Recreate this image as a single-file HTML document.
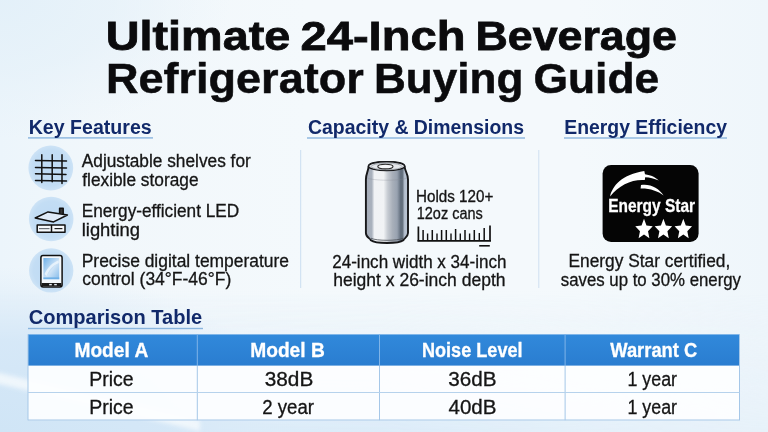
<!DOCTYPE html>
<html><head><meta charset="utf-8"><title>Ultimate 24-Inch Beverage Refrigerator Buying Guide</title>
<style>
html,body{margin:0;padding:0;background:#eef5fb;}
body{width:768px;height:432px;overflow:hidden;}
svg{display:block;font-family:'Liberation Sans', sans-serif;}
</style></head><body>
<svg width="768" height="432" viewBox="0 0 768 432">
<defs>
<linearGradient id="bg" x1="0" y1="0" x2="1" y2="0"><stop offset="0" stop-color="#ecf5fb"/><stop offset="0.12" stop-color="#f1f7fb"/><stop offset="0.4" stop-color="#f4f9fc"/><stop offset="0.75" stop-color="#f4f9fc"/><stop offset="1" stop-color="#eff6fb"/></linearGradient>
<radialGradient id="bl2" cx="0.5" cy="0.5" r="0.5"><stop offset="0" stop-color="#d0e5f6" stop-opacity="1"/><stop offset="0.55" stop-color="#d4e7f7" stop-opacity="0.9"/><stop offset="1" stop-color="#dcebf8" stop-opacity="0"/></radialGradient>
<radialGradient id="tl" cx="0.5" cy="0.5" r="0.5"><stop offset="0" stop-color="#e3f0f9" stop-opacity="0.95"/><stop offset="0.5" stop-color="#e5f1f9" stop-opacity="0.7"/><stop offset="1" stop-color="#e8f2fa" stop-opacity="0"/></radialGradient>
<linearGradient id="bb" x1="0" y1="0" x2="0" y2="1"><stop offset="0" stop-color="#dcebf8" stop-opacity="0"/><stop offset="0.75" stop-color="#dcebf8" stop-opacity="0.75"/><stop offset="1" stop-color="#d9eaf8" stop-opacity="1"/></linearGradient>
<linearGradient id="bbm" x1="0" y1="0" x2="1" y2="0"><stop offset="0" stop-color="#fff" stop-opacity="1"/><stop offset="0.5" stop-color="#fff" stop-opacity="0.9"/><stop offset="1" stop-color="#fff" stop-opacity="0.35"/></linearGradient>
<mask id="mk"><rect x="0" y="290" width="768" height="142" fill="url(#bbm)"/></mask>
<radialGradient id="cg" cx="0.5" cy="0.5" r="0.5"><stop offset="0" stop-color="#bedaf4"/><stop offset="0.8" stop-color="#c3ddf4"/><stop offset="1" stop-color="#cde3f6"/></radialGradient>
<linearGradient id="thg" x1="0" y1="0" x2="0" y2="1"><stop offset="0" stop-color="#3189db"/><stop offset="1" stop-color="#2a7dd0"/></linearGradient>
<linearGradient id="can" gradientUnits="userSpaceOnUse" x1="365.9" y1="0" x2="408" y2="0"><stop offset="0" stop-color="#8f98a6"/><stop offset="0.02" stop-color="#a5adb9"/><stop offset="0.14" stop-color="#a9b1bd"/><stop offset="0.2" stop-color="#f0f2f5"/><stop offset="0.42" stop-color="#f1f3f5"/><stop offset="0.52" stop-color="#c6cbd2"/><stop offset="0.63" stop-color="#a9b0ba"/><stop offset="0.74" stop-color="#98a2b0"/><stop offset="0.83" stop-color="#5f6b7a"/><stop offset="0.87" stop-color="#66727f"/><stop offset="0.92" stop-color="#b5c0cf"/><stop offset="0.98" stop-color="#b9c4d2"/><stop offset="1" stop-color="#8f98a6"/></linearGradient>
<linearGradient id="scr" x1="0" y1="0" x2="1" y2="1"><stop offset="0" stop-color="#6fb0e8"/><stop offset="0.55" stop-color="#cfe4f7"/><stop offset="1" stop-color="#86bcea"/></linearGradient>
<filter id="bl3" x="-10%" y="-50%" width="120%" height="200%"><feGaussianBlur stdDeviation="2.2"/></filter>
</defs>
<rect id="bgr" width="768" height="432" fill="url(#bg)"/>
<g id="bgl"><ellipse cx="0" cy="0" rx="230" ry="140" fill="url(#tl)"/><rect x="0" y="290" width="768" height="142" fill="url(#bb)" mask="url(#mk)"/><ellipse cx="0" cy="432" rx="300" ry="165" fill="url(#bl2)"/><polygon points="-5,372 -5,383 200,431 200,420" fill="#f6fafd" opacity="0.8" filter="url(#bl3)"/></g>
<g id="gfx">
<!-- heading underlines -->
<rect x="28" y="137.2" width="125" height="1.4" fill="#8ab5de"/>
<rect x="307" y="137.3" width="218" height="1.4" fill="#8ab5de"/>
<rect x="564" y="137.3" width="163" height="1.4" fill="#8ab5de"/>
<rect x="28" y="327.8" width="175" height="1.4" fill="#8ab5de"/>
<!-- dividers -->
<rect x="300.2" y="150" width="1" height="138" fill="#cadef0"/>
<rect x="538.3" y="150" width="1" height="138" fill="#cfe0f1"/>
<!-- circles -->
<circle cx="50.8" cy="168" r="22.4" fill="url(#cg)"/>
<circle cx="51.2" cy="219" r="22.3" fill="url(#cg)"/>
<circle cx="51.2" cy="270.4" r="22.2" fill="url(#cg)"/>
<!-- grid icon -->
<g stroke="#111" stroke-width="1.5" stroke-linecap="round" fill="none">
<path d="M41.8 154.8V182.4M52.2 154.8V181.8M62 154.8V183.5"/>
<path d="M35.5 160.6L66.5 160.9M35.5 167.6L66.5 168M35.5 173.8L66 174.6M35.5 180.6L66.5 180.9"/>
</g>
<!-- house / LED icon -->
<g stroke="#111" stroke-width="1.5" stroke-linejoin="round" fill="none">
<path d="M59.6 213.6V208.3H63.2V214" fill="#333"/>
<path d="M35.2 218L48 211.9L67.4 215L53.6 221.9Z" fill="#dfeaf7"/>
<rect x="37.2" y="224.9" width="27.8" height="7.4" fill="#f6f9fc"/>
<path d="M51.5 224.9V232.3"/>
</g>
<path d="M39 228.6H49.5" stroke="#6a6f76" stroke-width="1.2"/>
<path d="M54.5 228.6H62.4" stroke="#222" stroke-width="1.2"/>
<!-- phone icon -->
<rect x="40.9" y="255.5" width="21.2" height="31.4" rx="2.2" fill="#f4f8fc" stroke="#111" stroke-width="1.5"/>
<rect x="43.4" y="258" width="15.8" height="21.2" fill="url(#scr)"/>
<path d="M44.5 274C47 268 53 262 58.5 260.5L58.8 263C53 265 49 270 46.5 276Z" fill="#f2f8fd" opacity="0.75"/>
<rect x="43.4" y="277.4" width="15.8" height="1.8" fill="#6fb0e6"/>
<rect x="41.6" y="283" width="19.8" height="3.3" fill="#1a1a1a"/>
<rect x="49.2" y="283.9" width="2.6" height="1.4" fill="#e8eef5"/>
<rect x="54.2" y="283.9" width="2.6" height="1.4" fill="#e8eef5"/>
<!-- can -->
<path d="M368.6 166.4C368.6 160.6 404.6 160.6 404.6 166.4C405 172 408 173.5 408 179.5V233C408 237.5 403.6 238.5 403.4 240.3C398.6 243.9 375.6 243.9 370.8 240.3C370.6 238.5 365.9 237.5 365.9 233V179.5C365.9 173.5 368.2 172 368.6 166.4Z" fill="url(#can)" stroke="#17181a" stroke-width="1.9" stroke-linejoin="round"/>
<ellipse cx="386.6" cy="166.2" rx="18" ry="4.4" fill="#e4e7eb" stroke="#17181a" stroke-width="1.4"/>
<ellipse cx="386.6" cy="166.5" rx="15.4" ry="3.3" fill="none" stroke="#8a9098" stroke-width="0.7"/>
<ellipse cx="385.4" cy="166.6" rx="7.6" ry="2.3" fill="#f4f6f8" stroke="#2a2a2a" stroke-width="1.1"/>
<path d="M367 177.8C372 181 402 181 407 177.8" fill="none" stroke="#858b93" stroke-width="0.6" opacity="0.5"/>
<path d="M371 238.2C376 241 398 241 403.2 238.2" fill="none" stroke="#4a4f56" stroke-width="0.8"/>
<!-- ruler -->
<g stroke="#111" fill="none">
<path d="M417.4 240.8H491" stroke-width="1.7"/>
<path d="M418.4 226.5V240.8M490 225.5V240.8" stroke-width="1.7"/>
<path d="M423.1 230V240M432.3 230V240M441.6 230V240M446.3 230V240M455.6 229V240M465 230V240M474.3 230V240M484.2 228V240" stroke-width="1.5"/>
<path d="M427.6 233.5V240M437 233.5V240M451 233.5V240M460.3 233.5V240M469.6 233.5V240M479.3 233V240" stroke-width="1.4"/>
<path d="M479.2 245.8H489.8" stroke-width="1.6"/>
</g>
<!-- table -->
<rect x="28" y="334.3" width="711.5" height="86" fill="#fdfeff" opacity="0.93"/>
<rect x="28" y="334.4" width="711.5" height="31.2" fill="url(#thg)"/>
<g fill="#a5c7e8">
<rect x="27.5" y="334.3" width="1" height="86"/>
<rect x="739" y="334.3" width="1" height="86"/>
<rect x="196.8" y="365.6" width="1" height="54.6"/>
<rect x="379" y="365.6" width="1" height="54.6"/>
<rect x="564.6" y="365.6" width="1" height="54.6"/>
<rect x="28" y="392" width="711.5" height="1" fill="#b6d2ec"/>
<rect x="28" y="419.5" width="711.5" height="1"/>
</g>
<g fill="#7fb4e8">
<rect x="196.8" y="334.3" width="1" height="31.2"/>
<rect x="379" y="334.3" width="1" height="31.2"/>
<rect x="564.6" y="334.3" width="1" height="31.2"/>
</g>
<!-- logo -->
<rect x="602.6" y="164.9" width="96" height="77" rx="8.5" fill="#050505"/>
<path d="M610.1 196.4C612.5 186 622 174.5 644.3 171.1L645 174.2C651 175 656 177.5 658.8 180.5C654 178.6 650 177.6 645.2 177.3L644.8 180C632 179 619 185 610.1 196.4Z" fill="#fff"/>
<path d="M641 185C650 183.5 659 188 663.6 195.6C658 191 650 188.3 640.6 188.5Z" fill="#fff"/>
<g fill="#fff">
<path id="star" d="M0.00 -10.20L2.76 -3.80L9.70 -3.15L4.47 1.45L6.00 8.25L0.00 4.70L-6.00 8.25L-4.47 1.45L-9.70 -3.15L-2.76 -3.80Z" transform="translate(644 229.6) scale(0.9 1.06)"/>
<path d="M0.00 -10.20L2.76 -3.80L9.70 -3.15L4.47 1.45L6.00 8.25L0.00 4.70L-6.00 8.25L-4.47 1.45L-9.70 -3.15L-2.76 -3.80Z" transform="translate(663.4 229.6) scale(0.9 1.06)"/>
<path d="M0.00 -10.20L2.76 -3.80L9.70 -3.15L4.47 1.45L6.00 8.25L0.00 4.70L-6.00 8.25L-4.47 1.45L-9.70 -3.15L-2.76 -3.80Z" transform="translate(683.3 229.6) scale(0.9 1.06)"/>
</g>
</g>
<g id="txt">
<text id="t1" y="50.30" font-size="41.5" font-weight="bold" fill="#0b0b0d" stroke="#0b0b0d" stroke-width="0.8"><tspan x="105.71" textLength="184.56" lengthAdjust="spacingAndGlyphs">Ultimate</tspan> <tspan x="300.47" textLength="165.08" lengthAdjust="spacingAndGlyphs">24-Inch</tspan> <tspan x="475.45" textLength="201.57" lengthAdjust="spacingAndGlyphs">Beverage</tspan></text>
<text id="t2" y="92.60" font-size="42" font-weight="bold" fill="#0b0b0d" stroke="#0b0b0d" stroke-width="0.5"><tspan x="105.96" textLength="257.79" lengthAdjust="spacingAndGlyphs">Refrigerator</tspan> <tspan x="373.91" textLength="149.44" lengthAdjust="spacingAndGlyphs">Buying</tspan> <tspan x="533.47" textLength="125.81" lengthAdjust="spacingAndGlyphs">Guide</tspan></text>
<text id="h1" x="28.73" y="133.90" font-size="19.5" font-weight="bold" fill="#11296a" textLength="123.03" lengthAdjust="spacingAndGlyphs">Key Features</text>
<text id="h2" x="307.99" y="134.00" font-size="19.5" font-weight="bold" fill="#11296a" textLength="216.01" lengthAdjust="spacingAndGlyphs">Capacity &amp; Dimensions</text>
<text id="h3" x="564.24" y="134.00" font-size="19.5" font-weight="bold" fill="#11296a" textLength="162.77" lengthAdjust="spacingAndGlyphs">Energy Efficiency</text>
<text id="h4" x="28.74" y="324.40" font-size="20.5" font-weight="bold" fill="#11296a" textLength="173.52" lengthAdjust="spacingAndGlyphs">Comparison Table</text>
<text id="b1" x="81.75" y="166.50" font-size="17.5" font-weight="normal" fill="#151515" stroke="#151515" stroke-width="0.3" textLength="169.00" lengthAdjust="spacingAndGlyphs">Adjustable shelves for</text>
<text id="b2" x="82.25" y="185.70" font-size="17.5" font-weight="normal" fill="#151515" stroke="#151515" stroke-width="0.3" textLength="116.26" lengthAdjust="spacingAndGlyphs">flexible storage</text>
<text id="b3" x="81.73" y="216.90" font-size="17.5" font-weight="normal" fill="#151515" stroke="#151515" stroke-width="0.3" textLength="157.53" lengthAdjust="spacingAndGlyphs">Energy-efficient LED</text>
<text id="b4" x="81.71" y="235.80" font-size="17.5" font-weight="normal" fill="#151515" stroke="#151515" stroke-width="0.3" textLength="58.33" lengthAdjust="spacingAndGlyphs">lighting</text>
<text id="b5" x="81.74" y="266.50" font-size="17.5" font-weight="normal" fill="#151515" stroke="#151515" stroke-width="0.3" textLength="207.27" lengthAdjust="spacingAndGlyphs">Precise digital temperature</text>
<text id="b6" x="82.24" y="285.00" font-size="17.5" font-weight="normal" fill="#151515" stroke="#151515" stroke-width="0.3" textLength="149.02" lengthAdjust="spacingAndGlyphs">control (34°F-46°F)</text>
<text id="c1" x="415.98" y="201.50" font-size="15.6" font-weight="normal" fill="#151515" stroke="#151515" stroke-width="0.3" textLength="77.29" lengthAdjust="spacingAndGlyphs">Holds 120+</text>
<text id="c2" x="416.73" y="218.60" font-size="15.6" font-weight="normal" fill="#151515" stroke="#151515" stroke-width="0.3" textLength="66.04" lengthAdjust="spacingAndGlyphs">12oz cans</text>
<text id="c3" x="332.24" y="267.70" font-size="17.5" font-weight="normal" fill="#151515" stroke="#151515" stroke-width="0.3" textLength="174.27" lengthAdjust="spacingAndGlyphs">24-inch width x 34-inch</text>
<text id="c4" x="333.23" y="285.60" font-size="17.5" font-weight="normal" fill="#151515" stroke="#151515" stroke-width="0.3" textLength="172.28" lengthAdjust="spacingAndGlyphs">height x 26-inch depth</text>
<text id="e1" x="568.48" y="267.10" font-size="17.5" font-weight="normal" fill="#151515" stroke="#151515" stroke-width="0.3" textLength="161.79" lengthAdjust="spacingAndGlyphs">Energy Star certified,</text>
<text id="e2" x="560.75" y="285.80" font-size="17.5" font-weight="normal" fill="#151515" stroke="#151515" stroke-width="0.3" textLength="180.25" lengthAdjust="spacingAndGlyphs">saves up to 30% energy</text>
<text id="lg" x="608.23" y="212.30" font-size="19" font-weight="bold" fill="#ffffff" stroke="#ffffff" stroke-width="0.3" textLength="86.78" lengthAdjust="spacingAndGlyphs">Energy Star</text>
<text id="th1" x="74.45" y="357.20" font-size="20" font-weight="bold" fill="#ffffff" stroke="#ffffff" stroke-width="0.3" textLength="73.82" lengthAdjust="spacingAndGlyphs">Model A</text>
<text id="th2" x="250.20" y="357.20" font-size="20" font-weight="bold" fill="#ffffff" stroke="#ffffff" stroke-width="0.3" textLength="74.58" lengthAdjust="spacingAndGlyphs">Model B</text>
<text id="th3" x="421.97" y="357.20" font-size="20" font-weight="bold" fill="#ffffff" stroke="#ffffff" stroke-width="0.3" textLength="100.57" lengthAdjust="spacingAndGlyphs">Noise Level</text>
<text id="th4" x="610.25" y="357.20" font-size="20" font-weight="bold" fill="#ffffff" stroke="#ffffff" stroke-width="0.3" textLength="87.01" lengthAdjust="spacingAndGlyphs">Warrant C</text>
<text id="d11" x="89.18" y="385.50" font-size="19.5" font-weight="normal" fill="#151515" stroke="#151515" stroke-width="0.3" textLength="44.36" lengthAdjust="spacingAndGlyphs">Price</text>
<text id="d12" x="264.73" y="385.50" font-size="19.5" font-weight="normal" fill="#151515" stroke="#151515" stroke-width="0.3" textLength="48.55" lengthAdjust="spacingAndGlyphs">38dB</text>
<text id="d13" x="448.23" y="385.50" font-size="19.5" font-weight="normal" fill="#151515" stroke="#151515" stroke-width="0.3" textLength="48.31" lengthAdjust="spacingAndGlyphs">36dB</text>
<text id="d14" x="627.46" y="385.50" font-size="19.5" font-weight="normal" fill="#151515" stroke="#151515" stroke-width="0.3" textLength="49.55" lengthAdjust="spacingAndGlyphs">1 year</text>
<text id="d21" x="89.18" y="413.60" font-size="19.5" font-weight="normal" fill="#151515" stroke="#151515" stroke-width="0.3" textLength="44.36" lengthAdjust="spacingAndGlyphs">Price</text>
<text id="d22" x="262.24" y="413.60" font-size="19.5" font-weight="normal" fill="#151515" stroke="#151515" stroke-width="0.3" textLength="51.77" lengthAdjust="spacingAndGlyphs">2 year</text>
<text id="d23" x="448.49" y="413.60" font-size="19.5" font-weight="normal" fill="#151515" stroke="#151515" stroke-width="0.3" textLength="48.04" lengthAdjust="spacingAndGlyphs">40dB</text>
<text id="d24" x="627.46" y="413.60" font-size="19.5" font-weight="normal" fill="#151515" stroke="#151515" stroke-width="0.3" textLength="49.55" lengthAdjust="spacingAndGlyphs">1 year</text>
</g>

</svg>
</body></html>
